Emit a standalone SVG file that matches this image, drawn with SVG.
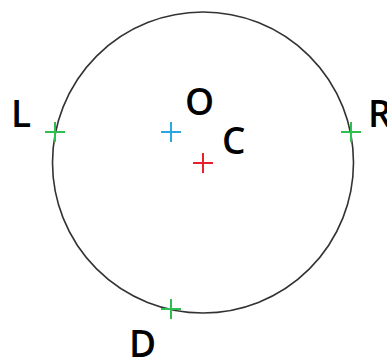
<svg xmlns="http://www.w3.org/2000/svg" width="387" height="360" viewBox="0 0 387 360">
<style>
.lbl{font-family:"Open Sans","Noto Sans",sans-serif;font-size:37px;font-weight:600;fill:#000}
.x{stroke-width:2;fill:none}
.g{stroke:#2fbf4f}
</style>
<rect width="387" height="360" fill="#fff"/>
<g id="circle">
<circle cx="203" cy="162.5" r="150.5" fill="none" stroke="#333" stroke-width="1.6"/>
</g>
<g id="L">
<path class="x g" d="M45 132H65M55 122V142"/>
<text class="lbl" x="11" y="127">L</text>
</g>
<g id="R">
<path class="x g" d="M341 132H361M351 122V142"/>
<text class="lbl" x="368" y="127">R</text>
</g>
<g id="D">
<path class="x g" d="M161 309H181M171 299V319"/>
<text class="lbl" x="129" y="357">D</text>
</g>
<g id="O">
<path class="x" stroke="#29a8e0" d="M161 132H181M171 122V142"/>
<text class="lbl" x="185" y="115">O</text>
</g>
<g id="C">
<path class="x" stroke="#e8202a" d="M193 163H213M203 153V173"/>
<text class="lbl" x="222" y="154">C</text>
</g>
<g id="connectors"/>
</svg>
